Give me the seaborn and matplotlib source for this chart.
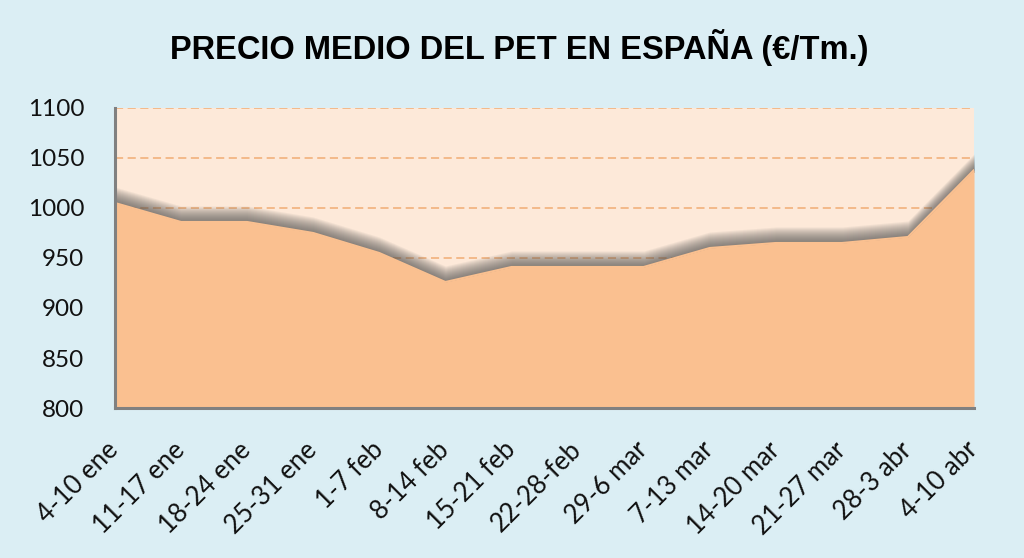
import numpy as np
import pandas as pd
import seaborn as sns
import matplotlib.pyplot as plt
from matplotlib.transforms import ScaledTranslation

# Semanas y precio medio del PET (€/Tm.)
semanas = ["4-10 ene", "11-17 ene", "18-24 ene", "25-31 ene", "1-7 feb",
           "8-14 feb", "15-21 feb", "22-28-feb", "29-6 mar", "7-13 mar",
           "14-20 mar", "21-27 mar", "28-3 abr", "4-10 abr"]
precios = [1005, 986, 986, 975, 955, 926, 941, 941, 941, 960, 965, 965, 971, 1038]
y_ticks = [800, 850, 900, 950, 1000, 1050, 1100]

bg_fig = "#DBEEF4"
bg_ax = "#FDE9D9"
fill_col = "#FAC090"
grid_col = "#F2B583"
spine_col = "#808080"

sns.set_theme(style="white")
plt.rcParams["font.family"] = ["Lato", "DejaVu Sans"]

df = pd.DataFrame({"semana": semanas, "precio": precios})
df["pos"] = np.arange(len(df))

fig = plt.figure(figsize=(10.24, 5.58), dpi=100, facecolor=bg_fig)
ax = fig.add_axes([0.1123, 0.2688, 0.8389, 0.5377])
ax.set_facecolor(bg_ax)

# rejilla discontinua por debajo del area
for t in y_ticks[1:]:
    ax.axhline(t, color=grid_col, lw=1.3, ls=(0, (4.5, 2.5)), zorder=1)

# sombra difuminada encima del borde del area
x = df["pos"].to_numpy()
y = df["precio"].to_numpy(dtype=float)
for h in np.arange(2, 17, 1.0):
    ax.fill_between(x, y - 2, y + h, color="#505050", alpha=0.065, lw=0, zorder=2)

ax.fill_between(x, 800, y, color=fill_col, lw=0, zorder=3)
sns.lineplot(data=df, x="pos", y="precio", color=fill_col, lw=1.5, ax=ax, zorder=4)

ax.set_xlim(0, len(df) - 1)
ax.set_ylim(800, 1100)
ax.set_xticks(x)
ax.set_xticklabels(semanas, rotation=45, ha="right", va="top",
                   rotation_mode="anchor", fontsize=18.5, color="#111111")
ax.set_yticks(y_ticks)
ax.set_yticklabels([str(t) for t in y_ticks], fontsize=17.5, color="#111111")
ax.tick_params(axis="both", direction="out", length=8, width=1.8,
               color=spine_col)
ax.tick_params(axis="x", pad=13)
ax.tick_params(axis="y", pad=14)
ax.set_xlabel("")
ax.set_ylabel("")

# desplazar un poco las etiquetas giradas hacia la izquierda
shift = ScaledTranslation(-9 / 100, 0, fig.dpi_scale_trans)
for lab in ax.get_xticklabels():
    lab.set_transform(lab.get_transform() + shift)

for side in ["top", "right"]:
    ax.spines[side].set_visible(False)
for side in ["left", "bottom"]:
    ax.spines[side].set_color(spine_col)
    ax.spines[side].set_linewidth(2.2)
    ax.spines[side].set_zorder(5)

fig.text(0.507, 0.915, "PRECIO MEDIO DEL PET EN ESPAÑA (€/Tm.)",
         ha="center", va="center", fontsize=23.5, fontweight="bold",
         family=["Liberation Sans", "DejaVu Sans"], color="black")

fig.savefig("out.png", dpi=100, facecolor=bg_fig)
